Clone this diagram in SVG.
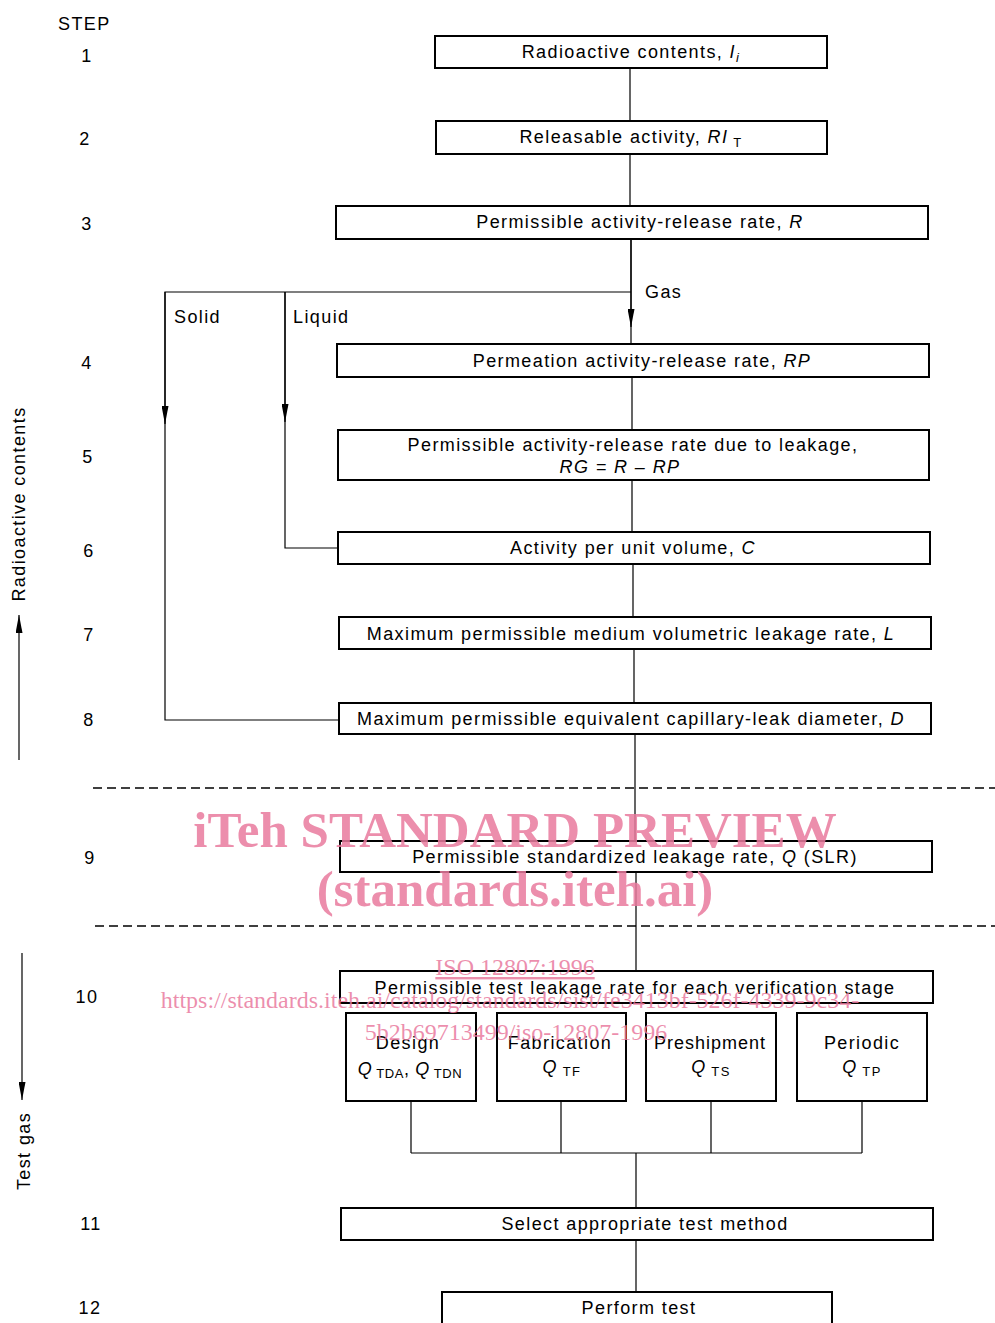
<svg xmlns="http://www.w3.org/2000/svg" width="995" height="1323" viewBox="0 0 995 1323">
<style>
.bx{fill:#fff;stroke:#000;stroke-width:2}
.ln{fill:none;stroke:#000;stroke-width:1.2}
.ds{fill:none;stroke:#000;stroke-width:1.5;stroke-dasharray:9 5}
.t{font-family:"Liberation Sans",Arial,sans-serif;font-size:18px;fill:#000;letter-spacing:1.4px}
.c{text-anchor:middle}
.i{font-style:italic}
.s{font-size:13px}
.wm{font-family:"Liberation Serif","Times New Roman",serif;fill:#e97a9e;fill-opacity:0.85}
</style>
<defs>
<marker id="ah" viewBox="0 0 18 7" refX="18" refY="3.5" markerWidth="18" markerHeight="7" markerUnits="userSpaceOnUse" orient="auto">
<path d="M0,0 L18,3.5 L0,7 Z" fill="#000"/>
</marker>
</defs>
<rect width="995" height="1323" fill="#fff"/>

<g id="connectors">
<path class="ln" d="M630,68 V121 M630,154 V206 M631,239 V344"/>
<path class="ln" d="M631,239 V327" marker-end="url(#ah)"/>
<path class="ln" d="M631,292 H165 V720 H339"/>
<path class="ln" d="M165,292 V424" marker-end="url(#ah)"/>
<path class="ln" d="M285,292 V548 H338"/>
<path class="ln" d="M285,292 V422" marker-end="url(#ah)"/>
<path class="ln" d="M632,377 V430 M632,480 V532 M633,564 V617 M634,649 V703 M635,734 V841 M636,872 V971"/>
<path class="ln" d="M411,1101 V1153 M561,1101 V1153 M711,1101 V1153 M862,1101 V1153 M411,1153 H862 M636,1153 V1208 M636,1240 V1292"/>
<path class="ds" d="M93,788 H995"/>
<path class="ds" d="M95,926 H995"/>
<path class="ln" d="M19,760 V615" marker-end="url(#ah)"/>
<path class="ln" d="M22,953 V1100" marker-end="url(#ah)"/>
</g>

<g id="steps" class="t">
<text x="58" y="30">STEP</text>
<text x="87" y="62" class="c">1</text>
<text x="85" y="145" class="c">2</text>
<text x="87" y="230" class="c">3</text>
<text x="87" y="369" class="c">4</text>
<text x="88" y="463" class="c">5</text>
<text x="89" y="557" class="c">6</text>
<text x="89" y="641" class="c">7</text>
<text x="89" y="726" class="c">8</text>
<text x="90" y="864" class="c">9</text>
<text x="87" y="1003" class="c">10</text>
<text x="91" y="1230" class="c">11</text>
<text x="90" y="1314" class="c">12</text>
</g>

<g id="side-labels" class="t">
<text transform="translate(25,504) rotate(-90)" class="c">Radioactive contents</text>
<text transform="translate(30,1151) rotate(-90)" class="c">Test gas</text>
</g>

<g id="branch-labels" class="t">
<text x="645" y="298">Gas</text>
<text x="174" y="323">Solid</text>
<text x="293" y="323">Liquid</text>
</g>

<g id="n1"><rect class="bx" x="435" y="36" width="392" height="32"/>
<text class="t c" x="631" y="58">Radioactive contents, <tspan class="i">I</tspan><tspan class="i s" dy="4">i</tspan></text></g>
<g id="n2"><rect class="bx" x="436" y="121" width="391" height="33"/>
<text class="t c" x="631" y="143">Releasable activity, <tspan class="i">RI</tspan><tspan class="s" dy="4"> T</tspan></text></g>
<g id="n3"><rect class="bx" x="336" y="206" width="592" height="33"/>
<text class="t c" x="640" y="228">Permissible activity-release rate, <tspan class="i">R</tspan></text></g>
<g id="n4"><rect class="bx" x="337" y="344" width="592" height="33"/>
<text class="t c" x="642" y="367">Permeation activity-release rate, <tspan class="i">RP</tspan></text></g>
<g id="n5"><rect class="bx" x="338" y="430" width="591" height="50"/>
<text class="t c" x="633" y="451">Permissible activity-release rate due to leakage,</text>
<text class="t c i" x="620" y="473">RG = R – RP</text></g>
<g id="n6"><rect class="bx" x="338" y="532" width="592" height="32"/>
<text class="t c" x="633" y="554">Activity per unit volume, <tspan class="i">C</tspan></text></g>
<g id="n7"><rect class="bx" x="339" y="617" width="592" height="32"/>
<text class="t c" x="631" y="640">Maximum permissible medium volumetric leakage rate, <tspan class="i">L</tspan></text></g>
<g id="n8"><rect class="bx" x="339" y="703" width="592" height="31"/>
<text class="t c" x="631" y="725">Maximum permissible equivalent capillary-leak diameter, <tspan class="i">D</tspan></text></g>
<g id="n9"><rect class="bx" x="340" y="841" width="592" height="31"/>
<text class="t c" x="635" y="863">Permissible standardized leakage rate, <tspan class="i">Q</tspan> (SLR)</text></g>
<g id="n10"><rect class="bx" x="340" y="971" width="593" height="32"/>
<text class="t c" x="635" y="994">Permissible test leakage rate for each verification stage</text></g>
<g id="n10a"><rect class="bx" x="346" y="1013" width="130" height="88"/>
<text class="t c" x="408" y="1049">Design</text>
<text class="t c" x="410" y="1075" style="letter-spacing:0.6px"><tspan class="i">Q</tspan><tspan class="s" dy="3"> TDA</tspan><tspan dy="-3">, </tspan><tspan class="i">Q</tspan><tspan class="s" dy="3"> TDN</tspan></text></g>
<g id="n10b"><rect class="bx" x="497" y="1013" width="129" height="88"/>
<text class="t c" x="560" y="1049">Fabrication</text>
<text class="t c" x="562" y="1073"><tspan class="i">Q</tspan><tspan class="s" dy="3"> TF</tspan></text></g>
<g id="n10c"><rect class="bx" x="646" y="1013" width="130" height="88"/>
<text class="t c" x="710" y="1049" style="letter-spacing:1px">Preshipment</text>
<text class="t c" x="711" y="1073"><tspan class="i">Q</tspan><tspan class="s" dy="3"> TS</tspan></text></g>
<g id="n10d"><rect class="bx" x="797" y="1013" width="130" height="88"/>
<text class="t c" x="862" y="1049">Periodic</text>
<text class="t c" x="862" y="1073"><tspan class="i">Q</tspan><tspan class="s" dy="3"> TP</tspan></text></g>
<g id="n11"><rect class="bx" x="341" y="1208" width="592" height="32"/>
<text class="t c" x="645" y="1230">Select appropriate test method</text></g>
<g id="n12"><rect class="bx" x="442" y="1292" width="390" height="40"/>
<text class="t c" x="639" y="1314">Perform test</text></g>

<g id="watermark" class="wm">
<text x="515" y="847" text-anchor="middle" font-size="51" font-weight="bold">iTeh STANDARD PREVIEW</text>
<text x="515" y="906" text-anchor="middle" font-size="51" font-weight="bold">(standards.iteh.ai)</text>
<text x="515" y="975" text-anchor="middle" font-size="24" text-decoration="underline">ISO 12807:1996</text>
<text x="510" y="1008" text-anchor="middle" font-size="24">https://standards.iteh.ai/catalog/standards/sist/fe3413bf-526f-4339-9c34-</text>
<text x="516" y="1040" text-anchor="middle" font-size="24">5b2b69713499/iso-12807-1996</text>
</g>
</svg>
